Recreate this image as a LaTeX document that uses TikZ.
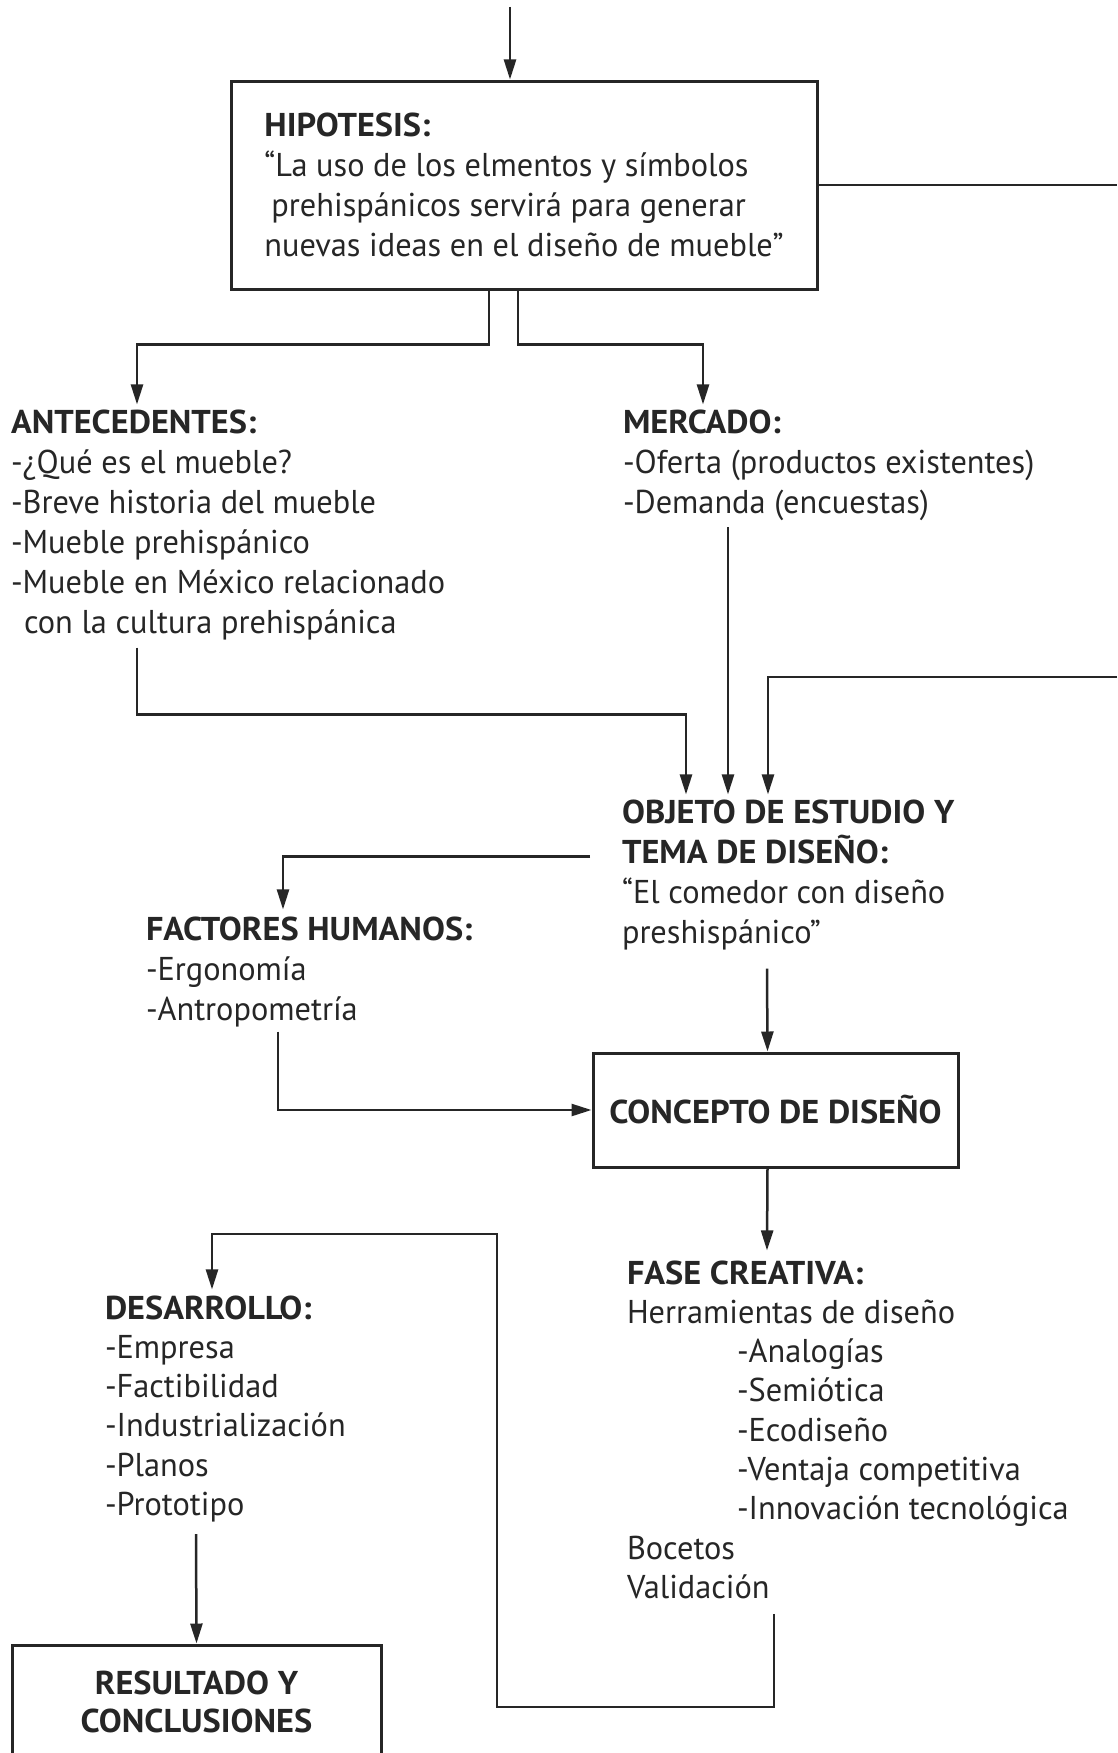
\documentclass[tikz,border=0pt]{standalone}
\usepackage{fontspec}
\setmainfont{PT Sans}[FakeStretch=0.98, BoldFeatures={FakeStretch=1.04}]
\usetikzlibrary{arrows.meta}
\definecolor{ink}{HTML}{262626}
\tikzset{
  txt/.style={anchor=base west, inner sep=0pt, outer sep=0pt, text=ink,
    font=\fontsize{33}{40}\selectfont},
  txtb/.style={txt, font=\fontsize{33}{39.3}\selectfont},
  boxnode/.style={draw=ink, line width=3pt, inner sep=0pt, text=ink,
    font=\fontsize{33}{40}\selectfont},
  conn/.style={draw=ink, line width=2.5pt},
  arr/.style={conn, -{Triangle[length=20pt,width=12pt]}}
}
\begin{document}
\begin{tikzpicture}[x=1pt,y=-1pt]
\clip (0,0) rectangle (1117,1753);
\fill[white] (0,0) rectangle (1117,1753);

% nodes
\node[boxnode, minimum width=586pt, minimum height=208pt] (hyp) at (524,185)
  {\vtop{\hbox{\bfseries HIPOTESIS:}
         \hbox{“La uso de los elmentos y símbolos}
         \hbox{\hskip7pt prehispánicos servirá para generar}
         \hbox{nuevas ideas en el diseño de mueble”}}};

\node[txt] (ante) at (11,433)
  {\vtop{\hbox{\bfseries ANTECEDENTES:}
         \hbox{-¿Qué es el mueble?}
         \hbox{-Breve historia del mueble}
         \hbox{-Mueble prehispánico}
         \hbox{-Mueble en México relacionado}
         \hbox{\hskip13pt con la cultura prehispánica}}};

\node[txt] (merc) at (623,433)
  {\vtop{\hbox{\bfseries MERCADO:}
         \hbox{-Oferta (productos existentes)}
         \hbox{-Demanda (encuestas)}}};

\node[txt] (obj) at (622,823)
  {\vtop{\hbox{\bfseries OBJETO DE ESTUDIO Y}
         \hbox{\bfseries TEMA DE DISEÑO:}
         \hbox{“El comedor con diseño}
         \hbox{preshispánico”}}};

\node[txt] (fact) at (146,940)
  {\vtop{\hbox{\bfseries FACTORES HUMANOS:}
         \hbox{-Ergonomía}
         \hbox{-Antropometría}}};

\node[boxnode, minimum width=365pt, minimum height=114pt] (concept) at (775.5,1110)
  {\bfseries CONCEPTO DE DISEÑO};

\node[txtb] (fase) at (627,1284)
  {\vtop{\hbox{\bfseries FASE CREATIVA:}
         \hbox{Herramientas de diseño}
         \hbox{\hskip110pt -Analogías}
         \hbox{\hskip110pt -Semiótica}
         \hbox{\hskip110pt -Ecodiseño}
         \hbox{\hskip110pt -Ventaja competitiva}
         \hbox{\hskip110pt -Innovación tecnológica}
         \hbox{Bocetos}
         \hbox{Validación}}};

\node[txtb] (des) at (105,1319)
  {\vtop{\hbox{\bfseries DESARROLLO:}
         \hbox{-Empresa}
         \hbox{-Factibilidad}
         \hbox{-Industrialización}
         \hbox{-Planos}
         \hbox{-Prototipo}}};

\node[boxnode, minimum width=369pt, minimum height=113pt, align=center,
      font=\fontsize{33}{38}\selectfont\bfseries] (res) at (196.5,1701.5)
  {RESULTADO Y\\CONCLUSIONES};

% free ends
\coordinate (topin) at (510,7);
\coordinate (hypR) at (1117,184);
\coordinate (feedR) at (1117,677);
\coordinate (loopB) at (497,1707);
\coordinate (loopT) at (497,1234);

% connectors
\draw[arr] (topin) -- (topin |- hyp.north);
\draw[conn] (hyp.east) -- (hyp.east -| hypR);
\draw[arr] ([xshift=-35]hyp.south) -- ++(0,54) -| ([xshift=126,yshift=5]ante.north west);
\draw[arr] ([xshift=-6]hyp.south) -- ++(0,54) -| ([xshift=80,yshift=5]merc.north west);
\draw[arr] ([xshift=126,yshift=-8]ante.south west) -- ++(0,67) -| ([xshift=64,yshift=5]obj.north west);
\draw[arr] ([xshift=105,yshift=-7]merc.south west) -- ([xshift=106,yshift=5]obj.north west);
\draw[arr] (feedR) -| ([xshift=146,yshift=5]obj.north west);
\draw[arr] ([xshift=-32,yshift=-57]obj.north west) -| ([xshift=137,yshift=7]fact.north west);
\draw[arr] ([xshift=132,yshift=-5]fact.south west) |- (concept.west);
\draw[arr] ([xshift=145,yshift=-19]obj.south west) -- ([xshift=-8]concept.north);
\draw[arr] ([xshift=-8]concept.south) -- ([xshift=140,yshift=10]fase.north west);
\draw[arr] ([xshift=147,yshift=-15]fase.south west) |- (loopB) -- (loopT) -| ([xshift=107,yshift=6]des.north west);
\draw[arr] ([xshift=91,yshift=-12]des.south west) -- (res.north);
\end{tikzpicture}
\end{document}
